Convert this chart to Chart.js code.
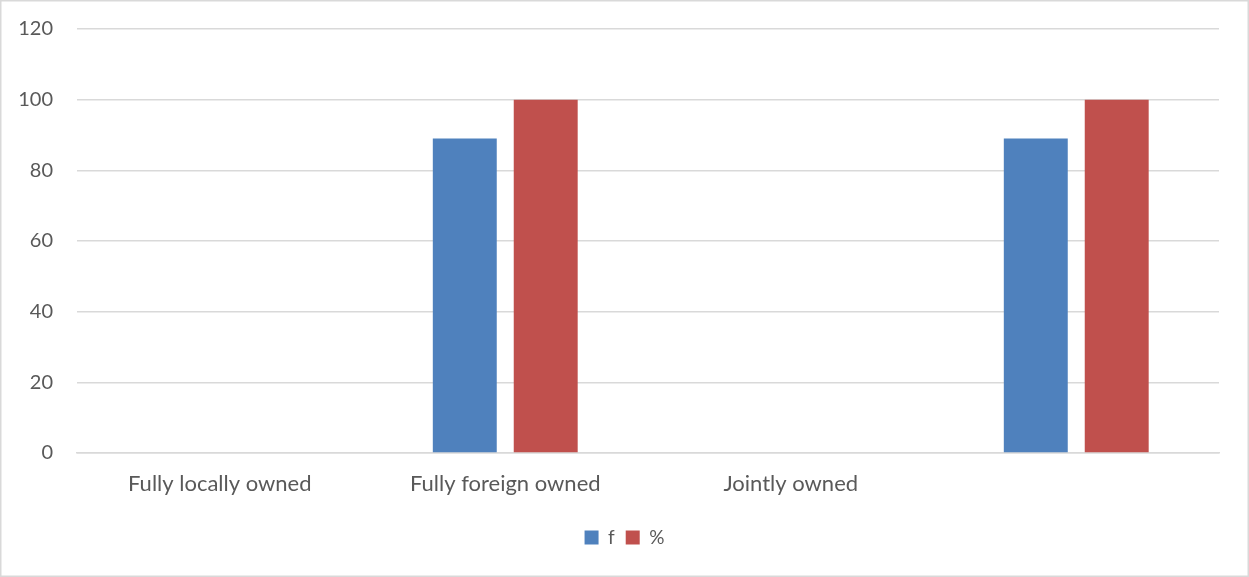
<!DOCTYPE html>
<html>
<head>
<meta charset="utf-8">
<script src="https://cdn.jsdelivr.net/npm/chart.js@4"></script>
<style>
  html, body { margin: 0; padding: 0; background: #fff; }
  #wrap { width: 1249px; height: 577px; position: relative; }
</style>
</head>
<body>
<div id="wrap"><canvas id="barCanvas"></canvas></div>
<script>
const categories = ["Fully locally owned", "Fully foreign owned", "Jointly owned", ""];
const fValues = [0, 89, 0, 89];
const pctValues = [0, 100, 0, 100];
const yTicks = [0, 20, 40, 60, 80, 100, 120];

const gray = '#595959';
const gridGray = '#d9d9d9';

// thin frame around the whole chart, legend centred on the full width
const frame = {
    id: 'frame',
    afterLayout(chart) {
        const lg = chart.legend;
        const shift = (chart.width - (lg.left + lg.right)) / 2;
        lg.left += shift;
        lg.right += shift;
    },
    afterDraw(chart) {
        const c = chart.ctx;
        c.save();
        c.strokeStyle = gridGray;
        c.lineWidth = 1.5;
        c.strokeRect(0.75, 0.75, chart.width - 1.5, chart.height - 1.5);
        c.restore();
    }
};

const ctx = document.getElementById('barCanvas').getContext('2d');
const myChart = new Chart(ctx, {
    type: 'bar',
    data: {
        labels: categories,
        datasets: [
            {
                label: 'f',
                data: fValues,
                backgroundColor: '#4f81bd',
                categoryPercentage: 0.567,
                barPercentage: 0.79
            },
            {
                label: '%',
                data: pctValues,
                backgroundColor: '#c0504d',
                categoryPercentage: 0.567,
                barPercentage: 0.79
            }
        ]
    },
    options: {
        responsive: true,
        maintainAspectRatio: false,
        animation: false,
        layout: {
            padding: { top: 29, right: 30, left: 0, bottom: 20 }
        },
        plugins: {
            legend: {
                position: 'bottom',
                labels: {
                    boxWidth: 14,
                    boxHeight: 14,
                    padding: 11,
                    color: gray,
                    font: { family: 'Lato', size: 19 }
                }
            },
            tooltip: { enabled: false }
        },
        scales: {
            x: {
                grid: { display: false, drawTicks: false },
                border: { color: gridGray, width: 1.5 },
                ticks: {
                    padding: 18,
                    color: gray,
                    font: { family: 'Lato', size: 22 },
                    maxRotation: 0
                },
                afterFit(axis) { axis.height = 64; }
            },
            y: {
                min: 0,
                max: 120,
                afterBuildTicks(axis) {
                    axis.ticks = yTicks.map(v => ({ value: v }));
                },
                grid: { color: gridGray, lineWidth: 1.5, drawTicks: false },
                border: { display: false },
                ticks: {
                    padding: 24,
                    color: gray,
                    font: { family: 'Lato', size: 20 }
                },
                afterFit(axis) {
                    axis.width = 77;
                    axis.paddingTop = 0;
                    axis.paddingBottom = 0;
                }
            }
        }
    },
    plugins: [frame]
});
</script>
</body>
</html>
